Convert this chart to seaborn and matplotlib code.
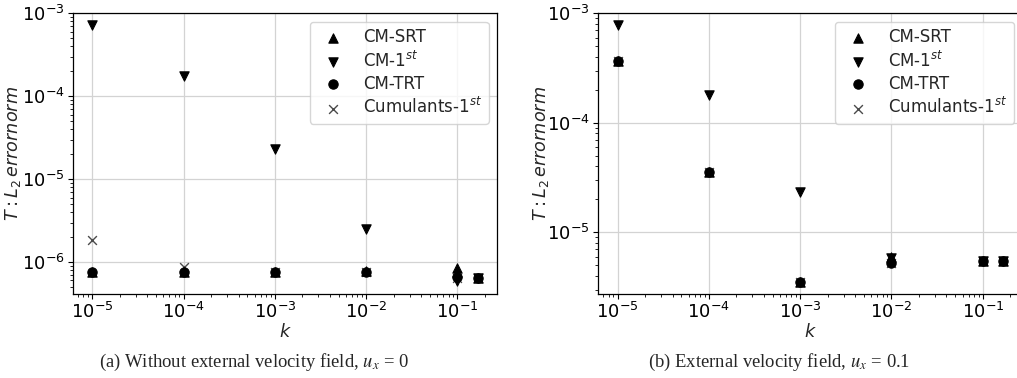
import numpy as np
import pandas as pd
import matplotlib
matplotlib.use("Agg")
import matplotlib.pyplot as plt
import seaborn as sns

# ---- data ----
k_values = [1e-5, 1e-4, 1e-3, 1e-2, 1e-1, 1 / 6]
methods = ["CM-SRT", "CM-1$^{st}$", "CM-TRT", "Cumulants-1$^{st}$"]

# (a) without external velocity field
srt_a = [7.6e-7, 7.6e-7, 7.6e-7, 7.8e-7, 8.6e-7, 6.4e-7]
cm1_a = [7.2e-4, 1.77e-4, 2.3e-5, 2.5e-6, 5.9e-7, 6.4e-7]
trt_a = [7.6e-7, 7.6e-7, 7.6e-7, 7.6e-7, 6.6e-7, 6.4e-7]
cum_a = [1.85e-6, 8.7e-7, 7.6e-7, 7.6e-7, 6.5e-7, 6.4e-7]

# (b) external velocity field u_x = 0.1
srt_b = [3.7e-4, 3.57e-5, 3.54e-6, 5.9e-6, 5.5e-6, 5.5e-6]
cm1_b = [7.8e-4, 1.8e-4, 2.32e-5, 5.8e-6, 5.5e-6, 5.5e-6]
trt_b = [3.7e-4, 3.57e-5, 3.54e-6, 5.2e-6, 5.5e-6, 5.5e-6]
cum_b = [3.7e-4, 3.57e-5, 3.54e-6, 5.2e-6, 5.5e-6, 5.5e-6]

captions = [r"(a) Without external velocity field, $u_x$ = 0",
            r"(b) External velocity field, $u_x$ = 0.1"]

sns.set_theme(style="ticks")
plt.rcParams.update({
    "font.family": ["DejaVu Sans"],
    "axes.edgecolor": "black",
    "axes.linewidth": 0.9,
    "xtick.color": "black",
    "ytick.color": "black",
    "xtick.labelsize": 13,
    "ytick.labelsize": 13,
    "axes.labelsize": 12.7,
    "xtick.direction": "out",
    "ytick.direction": "out",
})

fig = plt.figure(figsize=(10.17, 3.78), dpi=100)
ax_a = fig.add_axes([0.0718, 0.2222, 0.4169, 0.7426])
ax_b = fig.add_axes([0.5883, 0.2222, 0.4169, 0.7426])

colors = {methods[0]: "black", methods[1]: "black", methods[2]: "black", methods[3]: "#4a4a4a"}
markers = {methods[0]: "^", methods[1]: "v", methods[2]: "o", methods[3]: "x"}
draw_order = [methods[3], methods[0], methods[1], methods[2]]

panels = [
    (ax_a, {methods[0]: srt_a, methods[1]: cm1_a, methods[2]: trt_a, methods[3]: cum_a},
     (10 ** -6.385, 1e-3), captions[0], 0.2497, -0.118),
    (ax_b, {methods[0]: srt_b, methods[1]: cm1_b, methods[2]: trt_b, methods[3]: cum_b},
     (10 ** -5.563, 1e-3), captions[1], 0.766, -0.112),
]

for ax, series, ylim, cap, cx, ylx in panels:
    for name in draw_order:
        df = pd.DataFrame({"k": k_values, "err": series[name]})
        if markers[name] == "x":
            sns.scatterplot(data=df, x="k", y="err", marker="x", color=colors[name],
                            s=40, linewidth=1.0, ax=ax, label=name, zorder=3)
        else:
            sns.scatterplot(data=df, x="k", y="err", marker=markers[name], color=colors[name],
                            edgecolor=colors[name], s=45, linewidth=0.8, ax=ax,
                            label=name, zorder=3)
    ax.set_xscale("log")
    ax.set_yscale("log")
    ax.set_xlim(10 ** -5.211, 10 ** -0.567)
    ax.set_ylim(*ylim)
    ax.grid(True, which="major", color="#d3d3d3", linewidth=0.9)
    ax.set_axisbelow(True)
    ax.set_xlabel(r"$k$", labelpad=0.5)
    ax.set_ylabel(r"$T: L_2\,error norm$")
    ax.yaxis.set_label_coords(ylx, 0.5)
    ax.tick_params(which="major", length=3.5, width=0.8, pad=2.5)
    ax.tick_params(which="minor", length=2, width=0.6)
    handles, labels = ax.get_legend_handles_labels()
    hmap = dict(zip(labels, handles))
    ax.legend([hmap[m] for m in methods], methods, loc="upper right", fontsize=12,
              labelspacing=0.25, frameon=True, fancybox=True, framealpha=0.8,
              edgecolor="#cccccc")
    fig.text(cx, 0.04, cap, ha="center", va="center",
             family="Liberation Serif", math_fontfamily="stix", fontsize=13.4)

fig.savefig("out.png", dpi=100)
